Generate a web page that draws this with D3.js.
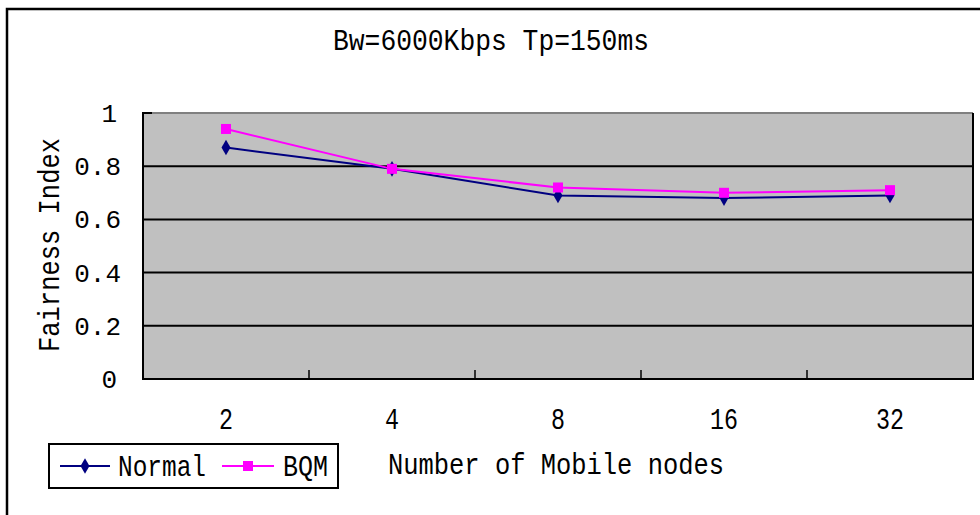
<!DOCTYPE html>
<html>
<head>
<meta charset="utf-8">
<script src="https://cdn.jsdelivr.net/npm/d3@7"></script>
<style>
  body { margin: 0; background: #fff; }
  text { font-family: "Liberation Mono", "DejaVu Sans Mono", monospace; fill: #000; }
</style>
</head>
<body>
<svg id="chart" width="980" height="515"></svg>
<script>
// Chart data
const nodes = ["2", "4", "8", "16", "32"];
const normalValues = [0.87, 0.79, 0.69, 0.68, 0.69];
const bqmValues = [0.94, 0.79, 0.72, 0.70, 0.71];
const yTicks = [0, 0.2, 0.4, 0.6, 0.8, 1];
const titleText = "Bw=6000Kbps Tp=150ms";

const svg = d3.select("#chart");

// Plot area
const plot = { left: 143, top: 113, right: 973, bottom: 379 };

const x = d3.scaleBand().domain(nodes).range([plot.left, plot.right]);
const y = d3.scaleLinear().domain([0, 1]).range([plot.bottom, plot.top]);
const cx = d => x(d) + x.bandwidth() / 2;

// Outer frame (runs off the right and bottom edges)
svg.append("path")
  .attr("d", "M7,520 L7,9 L990,9")
  .attr("fill", "none")
  .attr("stroke", "#000")
  .attr("stroke-width", 2.5);

// Title
svg.append("text")
  .attr("x", 491).attr("y", 50)
  .attr("text-anchor", "middle")
  .attr("font-size", 30)
  .attr("textLength", 316).attr("lengthAdjust", "spacingAndGlyphs")
  .text(titleText);

// Plot background
svg.append("rect")
  .attr("x", plot.left).attr("y", plot.top)
  .attr("width", plot.right - plot.left).attr("height", plot.bottom - plot.top)
  .attr("fill", "#c0c0c0");

// Gridlines
svg.selectAll(".grid")
  .data(yTicks.filter(d => d > 0 && d < 1))
  .enter().append("line")
  .attr("class", "grid")
  .attr("x1", plot.left).attr("x2", plot.right)
  .attr("y1", d => y(d)).attr("y2", d => y(d))
  .attr("stroke", "#000").attr("stroke-width", 2);

// Plot border: gray top, black others
svg.append("line")
  .attr("x1", plot.left).attr("x2", plot.right)
  .attr("y1", plot.top).attr("y2", plot.top)
  .attr("stroke", "#808080").attr("stroke-width", 2);
svg.append("path")
  .attr("d", `M${plot.right},${plot.top} L${plot.right},${plot.bottom} L${plot.left},${plot.bottom} L${plot.left},${plot.top} L${plot.left + 9},${plot.top}`)
  .attr("fill", "none").attr("stroke", "#000").attr("stroke-width", 2);

// X axis ticks between categories (inside)
svg.selectAll(".xtick")
  .data(nodes.slice(1).map(n => x(n)))
  .enter().append("line")
  .attr("x1", d => d).attr("x2", d => d)
  .attr("y1", plot.bottom).attr("y2", plot.bottom - 9)
  .attr("stroke", "#000").attr("stroke-width", 1.5);

// X tick labels
svg.selectAll(".xlabel")
  .data(nodes)
  .enter().append("text")
  .attr("x", d => cx(d))
  .attr("y", 429)
  .attr("text-anchor", "middle")
  .attr("font-size", 29)
  .attr("textLength", d => d.length * 14).attr("lengthAdjust", "spacingAndGlyphs")
  .text(d => d);

// Y tick labels
svg.selectAll(".ylabel")
  .data(yTicks)
  .enter().append("text")
  .attr("x", d => (d === 0 || d === 1) ? 117 : 121)
  .attr("y", d => y(d) + 9)
  .attr("text-anchor", "end")
  .attr("font-size", 26)
  .text(d => (d === 0 || d === 1) ? String(d) : d.toFixed(1));

// Y axis title
svg.append("text")
  .attr("transform", "translate(59,245) rotate(-90)")
  .attr("text-anchor", "middle")
  .attr("font-size", 30)
  .attr("textLength", 214).attr("lengthAdjust", "spacingAndGlyphs")
  .text("Fairness Index");

// X axis title
svg.append("text")
  .attr("x", 556).attr("y", 474)
  .attr("text-anchor", "middle")
  .attr("font-size", 30)
  .attr("textLength", 336).attr("lengthAdjust", "spacingAndGlyphs")
  .text("Number of Mobile nodes");

// Series
const line = d3.line().x(d => cx(d.n)).y(d => y(d.v));
const normalData = nodes.map((n, i) => ({ n, v: normalValues[i] }));
const bqmData = nodes.map((n, i) => ({ n, v: bqmValues[i] }));

const diamond = d3.symbol().type(d3.symbolDiamond).size(70);

svg.append("path")
  .datum(normalData)
  .attr("d", line)
  .attr("fill", "none").attr("stroke", "#000080").attr("stroke-width", 2);
svg.append("path")
  .datum(bqmData)
  .attr("d", line)
  .attr("fill", "none").attr("stroke", "#ff00ff").attr("stroke-width", 2);

svg.selectAll(".normalMark")
  .data(normalData)
  .enter().append("path")
  .attr("d", diamond)
  .attr("transform", d => `translate(${cx(d.n)},${y(d.v)})`)
  .attr("fill", "#000080");

svg.selectAll(".bqmMark")
  .data(bqmData)
  .enter().append("rect")
  .attr("x", d => cx(d.n) - 5).attr("y", d => y(d.v) - 5)
  .attr("width", 10).attr("height", 10)
  .attr("fill", "#ff00ff");

// Legend
const legend = svg.append("g");
legend.append("rect")
  .attr("x", 49).attr("y", 444).attr("width", 289).attr("height", 44)
  .attr("fill", "#fff").attr("stroke", "#000").attr("stroke-width", 2);

legend.append("line")
  .attr("x1", 60).attr("x2", 110).attr("y1", 466).attr("y2", 466)
  .attr("stroke", "#000080").attr("stroke-width", 2);
legend.append("path")
  .attr("d", diamond)
  .attr("transform", "translate(85,466)")
  .attr("fill", "#000080");
legend.append("text")
  .attr("x", 118).attr("y", 476)
  .attr("font-size", 30)
  .attr("textLength", 88).attr("lengthAdjust", "spacingAndGlyphs")
  .text("Normal");

legend.append("line")
  .attr("x1", 222).attr("x2", 274).attr("y1", 466).attr("y2", 466)
  .attr("stroke", "#ff00ff").attr("stroke-width", 2);
legend.append("rect")
  .attr("x", 243).attr("y", 461).attr("width", 10).attr("height", 10)
  .attr("fill", "#ff00ff");
legend.append("text")
  .attr("x", 283).attr("y", 476)
  .attr("font-size", 30)
  .attr("textLength", 45).attr("lengthAdjust", "spacingAndGlyphs")
  .text("BQM");
</script>
</body>
</html>
